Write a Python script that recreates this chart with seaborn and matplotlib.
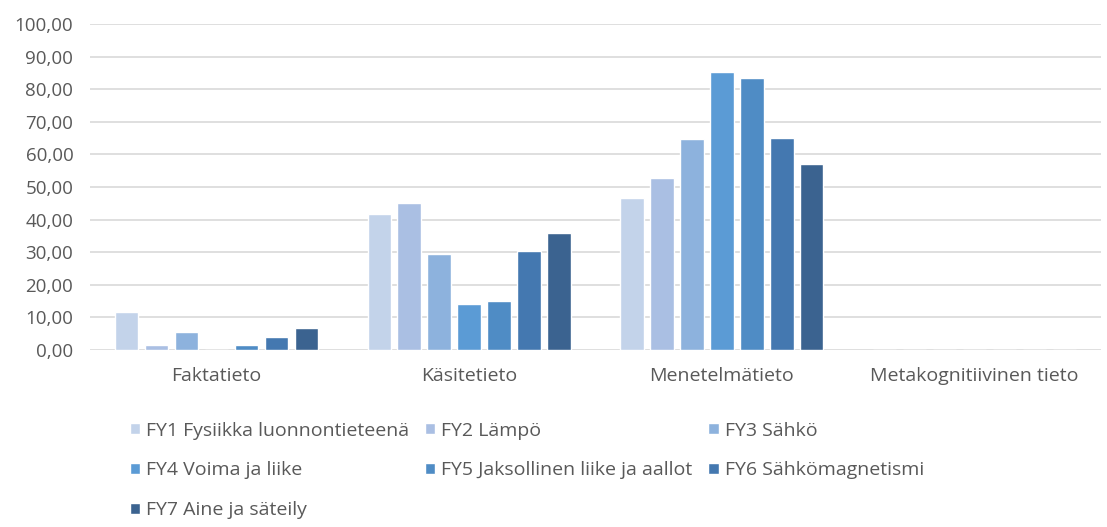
import matplotlib.pyplot as plt
import pandas as pd
import seaborn as sns

categories = ["Faktatieto", "Käsitetieto", "Menetelmätieto", "Metakognitiivinen tieto"]
courses = ["FY1 Fysiikka luonnontieteenä", "FY2 Lämpö", "FY3 Sähkö", "FY4 Voima ja liike",
           "FY5 Jaksollinen liike ja aallot", "FY6 Sähkömagnetismi", "FY7 Aine ja säteily"]
fy1 = [11.6, 41.6, 46.5, 0.0]
fy2 = [1.5, 45.2, 52.9, 0.0]
fy3 = [5.6, 29.3, 64.6, 0.0]
fy4 = [0.0, 14.0, 85.2, 0.0]
fy5 = [1.5, 15.1, 83.5, 0.0]
fy6 = [3.9, 30.5, 65.1, 0.0]
fy7 = [6.8, 35.8, 57.0, 0.0]
colors = ["#c3d3ea", "#aabfe3", "#8db2dd", "#5b9bd5", "#4f8cc5", "#4478b0", "#3b6390"]

rows = []
for course, vals in zip(courses, [fy1, fy2, fy3, fy4, fy5, fy6, fy7]):
    for cat, v in zip(categories, vals):
        rows.append({"kategoria": cat, "kurssi": course, "arvo": v})
df = pd.DataFrame(rows)

sns.set_style("white")
plt.rcParams["font.family"] = ["Open Sans", "DejaVu Sans"]
text_col = "#595959"

fig = plt.figure(figsize=(11.07, 5.27), dpi=100)
ax = fig.add_axes([90 / 1107, 1 - 350 / 527, 1011 / 1107, 326 / 527])
sns.barplot(data=df, x="kategoria", y="arvo", hue="kurssi", order=categories,
            hue_order=courses, palette=colors, width=0.83, gap=0.22,
            saturation=1, ax=ax, legend=True)

ax.set_ylim(0, 100)
ax.set_yticks(range(0, 101, 10))
ax.set_yticklabels([f"{t},00" for t in range(0, 101, 10)])
ax.grid(axis="y", color="#d9d9d9", linewidth=1.2)
ax.set_axisbelow(True)
for s in ax.spines.values():
    s.set_visible(False)
ax.tick_params(length=0, colors=text_col, labelsize=14)
ax.tick_params(axis="y", pad=12, labelsize=13.5)
ax.tick_params(axis="x", pad=12)
ax.set_xlabel("")
ax.set_ylabel("")

# legend filled row by row like Excel
handles, labels = ax.get_legend_handles_labels()
ax.legend_.remove()
order = [0, 3, 6, 1, 4, 2, 5]
fig.legend([handles[i] for i in order], [labels[i] for i in order], ncol=3,
           loc="upper left", bbox_to_anchor=(112 / 1107, 1 - 404 / 527),
           frameon=False, fontsize=14, labelcolor=text_col, handlelength=0.55,
           handleheight=0.55, handletextpad=0.3, columnspacing=0.8, labelspacing=1.13)

plt.savefig("out.png", dpi=100)
plt.close()
